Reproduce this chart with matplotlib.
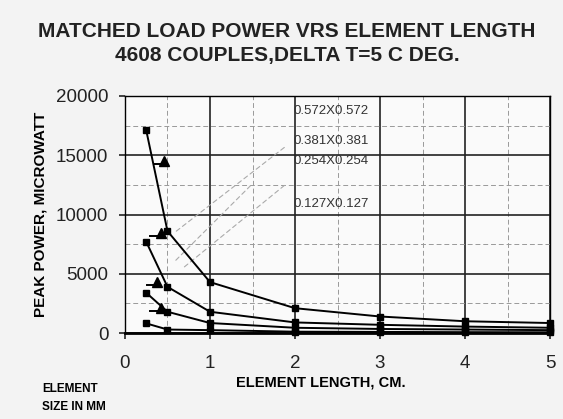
"""Matched load power vs element length, 4608 couples."""

import matplotlib.pyplot as plt
from matplotlib.ticker import MultipleLocator

# element length, cm
length_cm = [0.25, 0.5, 1, 2, 3, 4, 5]

# peak power, microwatt, one list per element size
power_572 = [17100, 8600, 4300, 2100, 1400, 1000, 850]
power_381 = [7700, 3900, 1800, 900, 700, 550, 450]
power_254 = [3400, 1800, 850, 450, 350, 300, 250]
power_127 = [820, 300, 250, 120, 100, 80, 70]

# triangle flags near the short elements
flag_x = [0.46, 0.42, 0.38, 0.42]
flag_y = [14500, 8450, 4300, 2100]

size_labels = ["0.572X0.572", "0.381X0.381", "0.254X0.254", "0.127X0.127"]
label_y = [18700, 16200, 14500, 10850]

fig = plt.figure(figsize=(5.63, 4.19), dpi=100)
fig.patch.set_facecolor("#f3f3f3")
ax = fig.add_axes([0.222, 0.205, 0.755, 0.566])
ax.set_facecolor("#fafafa")

for series in (power_572, power_381, power_254, power_127):
    ax.plot(length_cm, series, color="black", lw=1.4, marker="s", ms=4,
            mfc="black", zorder=4, clip_on=False)

for fx, fy in zip(flag_x, flag_y):
    ax.plot([fx - 0.12, fx], [fy - 250, fy - 250], color="black", lw=1.4, zorder=4)
    ax.plot(fx, fy, marker="^", ms=7, color="black", zorder=5)

for text, ty in zip(size_labels, label_y):
    ax.text(1.98, ty, text, fontsize=9.5, family="Liberation Sans",
            va="center", ha="left", color="#333333", zorder=6)

# faint leader lines from labels
for start, end in (((1.9, 15800), (0.55, 8300)),
                   ((1.5, 12600), (0.55, 5800)),
                   ((1.9, 12600), (0.65, 5300))):
    ax.annotate("", xy=end, xytext=start,
                arrowprops=dict(arrowstyle="-", ls=(0, (4, 3)), color="#aaaaaa", lw=0.8))

ax.set_xlim(0, 5)
ax.set_ylim(0, 20000)
ax.xaxis.set_major_locator(MultipleLocator(1))
ax.xaxis.set_minor_locator(MultipleLocator(0.5))
ax.yaxis.set_major_locator(MultipleLocator(5000))
ax.yaxis.set_minor_locator(MultipleLocator(2500))
ax.grid(which="major", color="#222222", lw=1.2)
ax.grid(which="minor", color="#999999", lw=0.7, ls=(0, (5, 3)))
ax.set_axisbelow(True)
for side in ("left", "right", "top"):
    ax.spines[side].set_linewidth(1.0)
ax.spines["bottom"].set_linewidth(2.0)

ax.tick_params(axis="both", which="major", labelsize=13.5, length=4, width=1.2,
               colors="#222222")
ax.tick_params(axis="x", which="major", pad=12)
ax.tick_params(axis="y", which="major", pad=8)
ax.tick_params(axis="both", which="minor", length=0)
for lab in ax.get_xticklabels() + ax.get_yticklabels():
    lab.set_family("Liberation Sans")

ax.set_xlabel("ELEMENT LENGTH, CM.", fontsize=10.5, fontweight="bold",
              family="Liberation Sans", labelpad=2, x=0.46)
ax.set_ylabel("PEAK POWER, MICROWATT", fontsize=11, fontweight="bold",
              family="Liberation Sans", labelpad=6)

fig.text(0.075, 0.05, "ELEMENT\nSIZE IN MM", fontsize=8.5, fontweight="bold",
         family="Liberation Sans", ha="left", va="center", linespacing=1.6)
fig.text(0.51, 0.897, "MATCHED LOAD POWER VRS ELEMENT LENGTH\n4608 COUPLES,DELTA T=5 C DEG.",
         fontsize=15, fontweight="bold", family="Liberation Sans", ha="center",
         va="center", linespacing=1.35, color="#222222")

fig.savefig("out.png", dpi=100, facecolor=fig.get_facecolor())
